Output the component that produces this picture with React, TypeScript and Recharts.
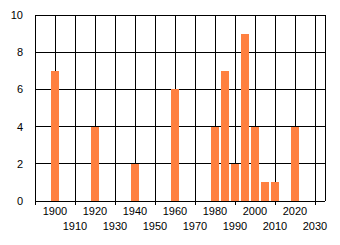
import React from 'react';
import { BarChart, Bar, XAxis, YAxis, CartesianGrid } from 'recharts';

const years = [1900, 1920, 1940, 1960, 1980, 1985, 1990, 1995, 2000, 2005, 2010, 2020];
const counts = [7, 4, 2, 6, 4, 7, 2, 9, 4, 1, 1, 4];
const xTicks = [1890, 1900, 1910, 1920, 1930, 1940, 1950, 1960, 1970, 1980, 1990, 2000, 2010, 2020, 2030];
const yTicks = [0, 2, 4, 6, 8, 10];

const data = years.map((year, i) => ({ year, count: counts[i] }));

const FONT = '"Liberation Sans", Arial, sans-serif';

// staggered year labels: even decades on the first row, odd ones below with a tick mark
function YearTick(props: any) {
  const { x, y, payload } = props;
  const v = payload.value as number;
  const odd = v % 20 !== 0;
  return (
    <g>
      {(odd || v === 1890) && <line x1={x} x2={x} y1={y} y2={y + 4} stroke="#000" shapeRendering="crispEdges" />}
      {v !== 1890 && (
        <text
          x={x}
          y={y + (odd ? 29 : 14)}
          textAnchor="middle"
          fontSize={11}
          fontFamily={FONT}
          fill="#000"
        >
          {v}
        </text>
      )}
    </g>
  );
}

export default function App() {
  return (
    <div style={{ position: 'absolute', left: 0, top: 0, width: 340, height: 245, background: '#fff' }}>
      <style>{'.recharts-cartesian-grid line, .recharts-cartesian-axis-line, .recharts-bar-rectangle path { shape-rendering: crispEdges; }'}</style>
      <BarChart width={340} height={245} data={data} margin={{ top: 15, right: 15, bottom: 0, left: 0 }}>
        <CartesianGrid stroke="#000" strokeWidth={1} />
        <XAxis
          dataKey="year"
          type="number"
          domain={[1890, 2035]}
          ticks={xTicks}
          interval={0}
          height={44}
          tickSize={0}
          tickMargin={0}
          tickLine={false}
          axisLine={{ stroke: '#000' }}
          tick={<YearTick />}
        />
        <YAxis
          domain={[0, 10]}
          ticks={yTicks}
          width={35}
          tickLine={false}
          tickMargin={6}
          axisLine={{ stroke: '#000' }}
          tick={{ fontSize: 11, fontFamily: FONT, fill: '#000' }}
        />
        <Bar dataKey="count" fill="#FF8040" barSize={8} isAnimationActive={false} />
      </BarChart>
    </div>
  );
}
